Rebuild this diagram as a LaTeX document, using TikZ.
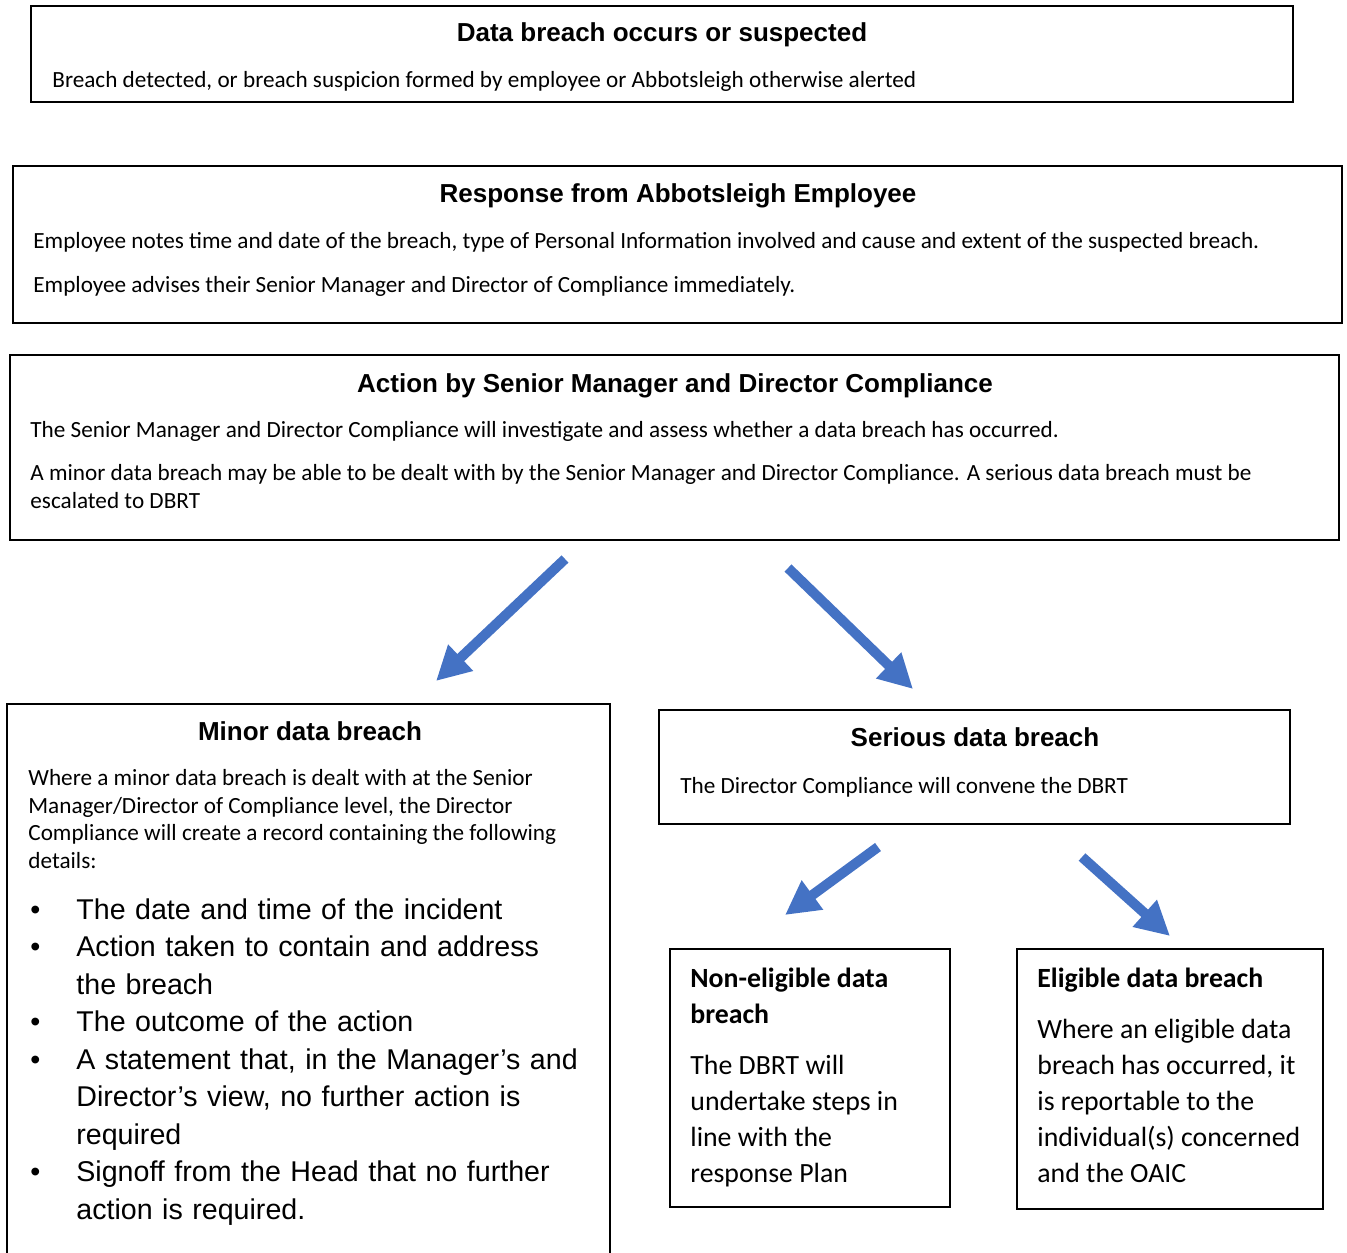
\documentclass[tikz,border=0pt]{standalone}
\usepackage{fontspec}
\setmainfont{Carlito}
\newfontfamily\headfont{Liberation Sans}
\newfontfamily\arialfont{Liberation Sans}
\usetikzlibrary{arrows.meta}
\definecolor{arrowblue}{HTML}{4472C4}
% bullet line with hanging indent
\newcommand{\bitem}{\hangindent=23pt\hangafter=1\noindent\makebox[23pt][l]{\textbullet}}

\tikzset{
  frame/.style={draw, line width=1pt, inner sep=0pt, outer sep=0pt, anchor=north west},
  head/.style={font=\headfont\bfseries\fontsize{13}{15}\selectfont, anchor=base, inner sep=0pt},
  body/.style={font=\fontsize{11.6}{13.75}\selectfont, align=left, anchor=base west, inner sep=0pt},
  big/.style={font=\fontsize{13.9}{18}\selectfont, align=left, anchor=base west, inner sep=0pt},
  flow/.style={line width=5pt, arrowblue, -{Triangle[length=17pt,width=17pt]}}
}

\begin{document}
\begin{tikzpicture}[x=0.5pt, y=-0.5pt]
\path[use as bounding box, clip] (0,0) rectangle (1347,1252);

% top chain
\node[frame, minimum width=631pt, minimum height=48pt] (occur) at (31,6) {};
\node[head] (occur-h) at (662,42) {Data breach occurs or suspected};
\node[body] (occur-t) at (52,88) {Breach detected, or breach suspicion formed by employee or Abbotsleigh otherwise alerted};

\node[frame, minimum width=664.5pt, minimum height=78.5pt] (employee) at (13,166) {};
\node[head] (employee-h) at (678,202) {Response from Abbotsleigh Employee};
\node[body] (employee-t) at (33,292) {Employee notes time and date of the breach, type of Personal Information involved and cause and extent of the suspected breach.\\[8pt]
Employee advises their Senior Manager and Director of Compliance immediately.};

\node[frame, minimum width=664.5pt, minimum height=92.5pt] (action) at (10,355) {};
\node[head] (action-h) at (675,392) {Action by Senior Manager and Director Compliance};
\node[body] (action-t) at (30,508) {The Senior Manager and Director Compliance will investigate and assess whether a data breach has occurred.\\[7.75pt]
A minor data breach may be able to be dealt with by the Senior Manager and Director Compliance. A serious data breach must be\\
escalated to DBRT};

% minor branch
\node[frame, minimum width=301.5pt, minimum height=288pt] (minor) at (7,704) {};
\node[head] (minor-h) at (310,740) {Minor data breach};
\node[body] (minor-t) at (28,868) {Where a minor data breach is dealt with at the Senior\\
Manager/Director of Compliance level, the Director\\
Compliance will create a record containing the following\\
details:};
\node[body, text width=290pt, font=\arialfont\fontsize{14.3}{18.75}\selectfont] (minor-list) at (30,919) {%
\bitem The date and time of the incident\par
\bitem Action taken to contain and address\newline the breach\par
\bitem The outcome of the action\par
\bitem A statement that, in the Manager’s and\newline Director’s view, no further action is\newline required\par
\bitem Signoff from the Head that no further\newline action is required.\par};

% serious branch
\node[frame, minimum width=315.5pt, minimum height=57pt] (serious) at (659,710) {};
\node[head] (serious-h) at (975,746) {Serious data breach};
\node[body] (serious-t) at (680,793) {The Director Compliance will convene the DBRT};

\node[frame, minimum width=140pt, minimum height=129pt] (noneligible) at (670,949) {};
\node[big] (noneligible-h) at (690,1023) {\bfseries Non-eligible data\\\bfseries breach};
\node[big] (noneligible-t) at (690,1182) {The DBRT will\\undertake steps in\\line with the\\response Plan};

\node[frame, minimum width=153pt, minimum height=130pt] (eligible) at (1017,949) {};
\node[big] (eligible-h) at (1037,987) {\bfseries Eligible data breach};
\node[big] (eligible-t) at (1037,1182) {Where an eligible data\\breach has occurred, it\\is reportable to the\\individual(s) concerned\\and the OAIC};

% arrows
\coordinate (a1s) at (565,559);
\coordinate (a1e) at (436,681);
\coordinate (a2s) at (788,568);
\coordinate (a2e) at (913,689);
\coordinate (a3s) at (878,847);
\coordinate (a3e) at (785,915);
\coordinate (a4s) at (1082,857);
\coordinate (a4e) at (1170,936);
\draw[flow] (a1s) -- (a1e);
\draw[flow] (a2s) -- (a2e);
\draw[flow] (a3s) -- (a3e);
\draw[flow] (a4s) -- (a4e);
\end{tikzpicture}
\end{document}
